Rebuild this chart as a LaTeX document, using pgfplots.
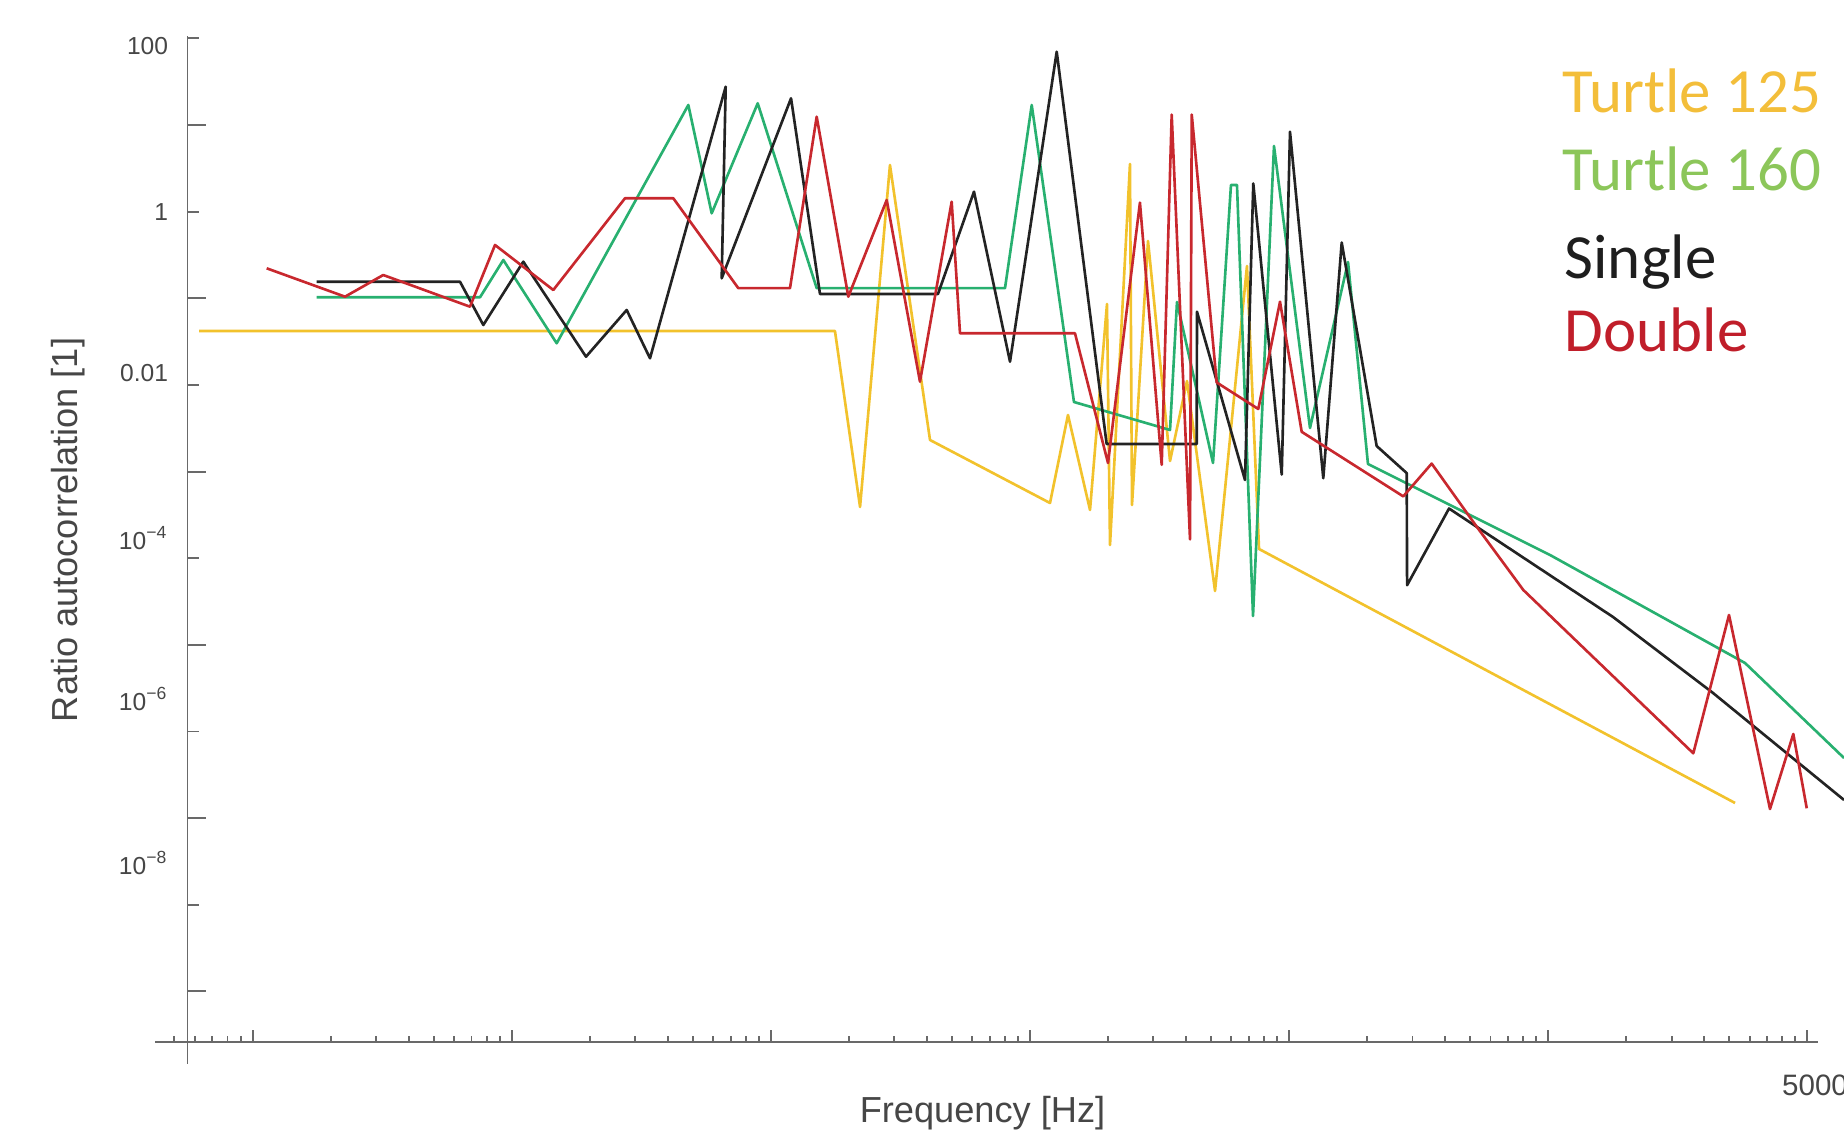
\documentclass[border=0pt]{standalone}
\usepackage{fontspec}
\setmainfont{Liberation Sans}
\newfontfamily\carlito{Carlito}
\usepackage{pgfplots}
\pgfplotsset{compat=1.18}
\definecolor{cyellow}{RGB}{242,194,44}
\definecolor{cgreen}{RGB}{40,176,112}
\definecolor{cblack}{RGB}{35,35,35}
\definecolor{cred}{RGB}{200,40,46}
\definecolor{axgray}{RGB}{105,105,105}
\definecolor{txgray}{RGB}{70,70,70}
\definecolor{lyellow}{RGB}{243,190,58}
\definecolor{lgreen}{RGB}{140,198,90}
\definecolor{lblack}{RGB}{30,30,30}
\definecolor{lred}{RGB}{192,30,42}
\begin{document}
\begin{tikzpicture}
\path[use as bounding box] (0,0) rectangle (18.44,11.30);
\begin{axis}[
  at={(1.875cm,0.88cm)}, anchor=south west,
  scale only axis, width=16.305cm, height=10.06cm,
  xmode=log, ymode=log,
  xmin=0.002804, xmax=5513, ymin=2.61e-10, ymax=106.3,
  axis x line*=bottom, axis y line*=left,
  axis line style={draw=axgray, line width=0.55pt},
  tick style={draw=axgray, line width=0.55pt},
  tick align=inside,
  major tick length=0.12cm, minor tick length=0.06cm,
  xtick={0.005,0.05,0.5,5,50,500,5000},
  xticklabels={,,,,,,5000},
  minor xtick={0.003,0.0035,0.004,0.0045,
    0.01,0.015,0.02,0.025,0.03,0.035,0.04,0.045,
    0.1,0.15,0.2,0.25,0.3,0.35,0.4,0.45,
    1,1.5,2,2.5,3,3.5,4,4.5,
    10,15,20,25,30,35,40,45,
    100,150,200,250,300,350,400,450,
    1000,1500,2000,2500,3000,3500,4000,4500},
  ytick={1e-8,1e-6,1e-4,1e-2,1,1e2},
  yticklabels={\raisebox{0.42cm}[\height][\depth]{10\textsuperscript{−8}},
    \raisebox{0.325cm}[\height][\depth]{10\textsuperscript{−6}},
    \raisebox{0.2cm}[\height][\depth]{10\textsuperscript{−4}},
    \raisebox{0.12cm}[\height][\depth]{0.01},
    1,
    \raisebox{-0.077cm}[\height][\depth]{100}},
  extra y ticks={1e-9,1e-7,1e-5,1e-3,1e-1,1e1},
  extra y tick labels={,,,,,},
  extra y tick style={major tick length=0.19cm},
  yticklabel style={font=\fontsize{7}{8}\selectfont, text=txgray, xshift=-0.07cm},
  xticklabel style={font=\fontsize{8.4}{10}\selectfont, text=txgray, xshift=0.08cm, yshift=-0.2cm},
  xlabel={Frequency [Hz]}, ylabel={Ratio autocorrelation [1]},
  label style={font=\fontsize{10.3}{12}\selectfont, text=txgray},
  xlabel style={at={(axis description cs:0.4876,-0.0805)}, anchor=base, inner sep=0pt},
  ylabel style={at={(axis description cs:-0.073,0.509)}, anchor=center},
  clip=false,
  every axis plot/.append style={line width=0.75pt, line join=round},
]
% Turtle 125
\addplot[cyellow] coordinates {
(0.003106,0.04188) (0.885,0.04188) (1.106,3.898e-4) (1.443,3.450) (2.060,2.312e-3)
(5.984,4.335e-4) (7.022,4.494e-3) (8.54,3.599e-4) (9.93,0.08584) (10.20,1.420e-4)
(12.18,3.543) (12.40,4.111e-4) (14.30,0.4578) (17.39,1.323e-3) (20.22,0.01109)
(25.94,4.183e-5) (34.46,0.2356) (38.36,1.277e-4) (2638,1.496e-7)
};
% Turtle 160
\addplot[cgreen] coordinates {
(0.00884,0.1025) (0.03775,0.1025) (0.04643,0.2763) (0.07462,0.03021) (0.2404,16.99)
(0.2959,0.9557) (0.4454,17.78) (0.7524,0.1307) (4.011,0.1307) (5.087,16.99)
(7.405,6.347e-3) (17.39,3.017e-3) (18.50,0.09051) (25.48,1.255e-3) (29.89,2.028)
(31.53,2.028) (36.36,2.153e-5) (43.81,5.715) (60.33,3.181e-3) (84.6,0.2620)
(101.0,1.222e-3) (509.3,1.089e-4) (2882,6.172e-6) (6948,4.945e-7)
};
% Single
\addplot[cblack] coordinates {
(0.00884,0.1552) (0.03159,0.1552) (0.03887,0.04912) (0.05546,0.2641) (0.09683,0.02115)
(0.1390,0.07316) (0.1710,0.02028) (0.3351,27.63) (0.3234,0.1699) (0.5990,20.30)
(0.7748,0.1119) (2.211,0.1119) (3.045,1.697) (4.194,0.01852) (6.352,70.04)
(9.90,2.079e-3) (22.04,2.079e-3) (22.1,0.06993) (33.85,7.988e-4) (36.45,2.110)
(46.93,9.247e-4) (50.51,8.337) (67.90,8.380e-4) (79.98,0.4398) (109.1,1.971e-3)
(142.5,9.596e-4) (143.0,4.879e-5) (207.6,3.745e-4) (891.8,2.096e-5) (2169,2.781e-6)
(6948,1.620e-7)
};
% Double
\addplot[cred] coordinates {
(0.005668,0.2216) (0.01137,0.1042) (0.01597,0.1854) (0.03453,0.07988) (0.04313,0.4116)
(0.07241,0.1245) (0.1369,1.423) (0.2104,1.423) (0.3749,0.1307) (0.5935,0.1307)
(0.7524,12.45) (0.9965,0.1042) (1.402,1.361) (1.884,0.01089) (2.497,1.301)
(2.689,0.03939) (7.472,0.03939) (10.02,1.255e-3) (13.31,1.270) (16.15,1.196e-3)
(17.65,13.17) (20.77,1.648e-4) (21.09,13.17) (26.33,0.01066) (38.11,5.27e-3)
(46.22,0.09123) (56.03,2.874e-3) (138.2,5.167e-4) (177.9,1.235e-3) (265.5,2.309e-4)
(401.7,4.295e-5) (1820,5.603e-7) (2500,2.21e-5) (3599,1.275e-7) (4427,9.357e-7)
(4989,1.299e-7)
};
\draw[axgray, line width=0.55pt] (rel axis cs:0,0) -- ++(-0.325cm,0cm);
\draw[axgray, line width=0.55pt] (rel axis cs:0,0) -- ++(0cm,-0.22cm);
\draw[axgray, line width=0.55pt] (rel axis cs:0,0) ++(-0.135cm,0cm) -- ++(0cm,0.06cm);
\end{axis}
\node[anchor=base west, inner sep=0pt, text=lyellow, font=\carlito\fontsize{17.9}{20}\selectfont] at (15.62,10.17) {Turtle 125};
\node[anchor=base west, inner sep=0pt, text=lgreen, font=\carlito\fontsize{17.9}{20}\selectfont] at (15.62,9.39) {Turtle 160};
\node[anchor=base west, inner sep=0pt, text=lblack, font=\carlito\fontsize{17.9}{20}\selectfont] at (15.64,8.51) {Single};
\node[anchor=base west, inner sep=0pt, text=lred, font=\carlito\fontsize{17.9}{20}\selectfont] at (15.64,7.78) {Double};
\end{tikzpicture}
\end{document}
